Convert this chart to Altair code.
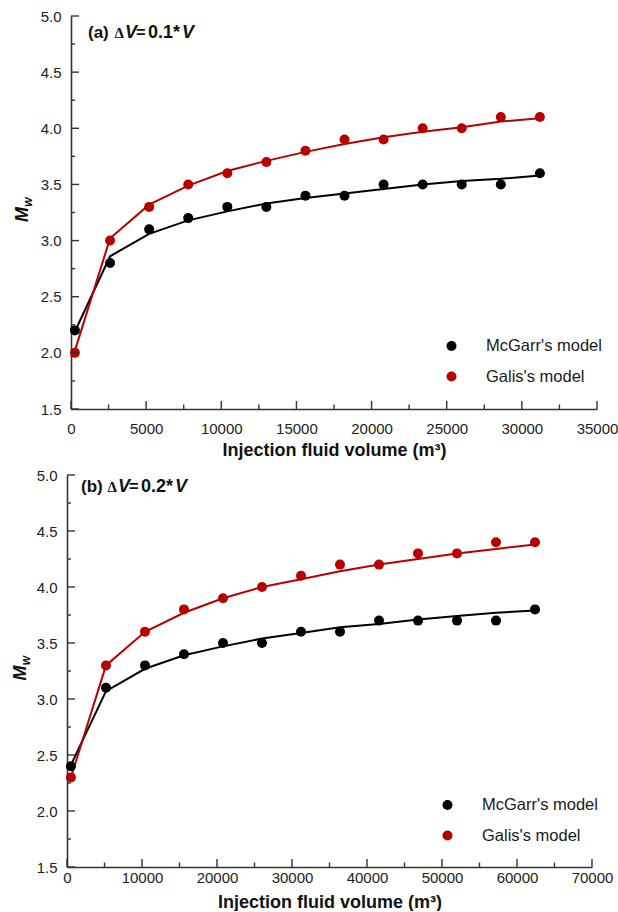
import altair as alt
import pandas as pd

FONT = "Liberation Sans"
SERIF = "Liberation Serif"
BLACK = "#000000"
RED = "#b80000"
AXIS_COLOR = "#333333"
SERIES = ["McGarr's model", "Galis's model"]

# ---------------- Panel (a): dV = 0.1*V ----------------
xa = [260, 2600, 5200, 7800, 10400, 13000, 15600, 18200, 20800, 23400, 26000, 28600, 31200]
mcgarr_a_pts = [2.2, 2.8, 3.1, 3.2, 3.3, 3.3, 3.4, 3.4, 3.5, 3.5, 3.5, 3.5, 3.6]
galis_a_pts = [2.0, 3.0, 3.3, 3.5, 3.6, 3.7, 3.8, 3.9, 3.9, 4.0, 4.0, 4.1, 4.1]
mcgarr_a_fit = [2.19, 2.86, 3.06, 3.18, 3.26, 3.33, 3.38, 3.42, 3.46, 3.50, 3.53, 3.55, 3.58]
galis_a_fit = [2.02, 3.02, 3.32, 3.49, 3.62, 3.71, 3.79, 3.86, 3.92, 3.97, 4.01, 4.06, 4.09]

# ---------------- Panel (b): dV = 0.2*V ----------------
xb = [520, 5200, 10400, 15600, 20800, 26000, 31200, 36400, 41600, 46800, 52000, 57200, 62400]
mcgarr_b_pts = [2.4, 3.1, 3.3, 3.4, 3.5, 3.5, 3.6, 3.6, 3.7, 3.7, 3.7, 3.7, 3.8]
galis_b_pts = [2.3, 3.3, 3.6, 3.8, 3.9, 4.0, 4.1, 4.2, 4.2, 4.3, 4.3, 4.4, 4.4]
mcgarr_b_fit = [2.41, 3.07, 3.27, 3.39, 3.47, 3.54, 3.59, 3.64, 3.67, 3.71, 3.74, 3.77, 3.79]
galis_b_fit = [2.30, 3.30, 3.60, 3.77, 3.90, 4.00, 4.07, 4.14, 4.20, 4.25, 4.30, 4.34, 4.38]

# ---------------- Tick values ----------------
y_major = [1.5, 2.0, 2.5, 3.0, 3.5, 4.0, 4.5, 5.0]
y_minor = [1.75, 2.25, 2.75, 3.25, 3.75, 4.25, 4.75]
xa_major = [0, 5000, 10000, 15000, 20000, 25000, 30000, 35000]
xa_minor = [2500, 7500, 12500, 17500, 22500, 27500, 32500]
xb_major = [0, 10000, 20000, 30000, 40000, 50000, 60000, 70000]
xb_minor = [5000, 15000, 25000, 35000, 45000, 55000, 65000]

ONE = pd.DataFrame({"a": [0]})


def long_df(x, a, b):
    n = len(x)
    return pd.DataFrame({"x": list(x) * 2, "y": list(a) + list(b),
                         "series": [SERIES[0]] * n + [SERIES[1]] * n})


def panel(x, m_pts, g_pts, m_fit, g_fit, xmax, xmajor, xminor, W, H,
          tag, ratio, title_dx, title_dy, lab_pad, tit_pad, mw_dx, sx=0.0):
    # sx: horizontal shift of the whole panel (pixels) relative to the view origin
    xs = alt.Scale(domain=[0, xmax], nice=False, zero=False, range=[sx, W + sx])
    ys = alt.Scale(domain=[1.5, 5.0], nice=False, zero=False)
    cs = alt.Scale(domain=SERIES, range=[BLACK, RED])

    xaxis = alt.Axis(values=xmajor, format="d", ticks=False, tickSize=0, grid=False,
                     domainColor=AXIS_COLOR, domainWidth=1.6, labelFont=FONT,
                     labelFontSize=15, labelColor="#222222", labelPadding=lab_pad,
                     labelFlush=False, title="Injection fluid volume (m³)",
                     titleFont=FONT, titleFontSize=18, titleFontWeight="bold",
                     titleColor="#111111", titlePadding=tit_pad,
                     titleX=sx + W / 2)
    yaxis = alt.Axis(values=y_major, format=".1f", ticks=False, tickSize=0, grid=False,
                     domainColor=AXIS_COLOR, domainWidth=1.6, labelFont=FONT,
                     labelFontSize=15, labelColor="#222222", labelPadding=10,
                     title="", offset=-sx)

    fit = long_df(x, m_fit, g_fit)
    pts = long_df(x, m_pts, g_pts)

    X = lambda f: alt.X(f, scale=xs, axis=xaxis)
    Y = lambda f: alt.Y(f, scale=ys, axis=yaxis)

    lines = alt.Chart(fit).mark_line(strokeWidth=2).encode(
        x=X("x:Q"), y=Y("y:Q"),
        color=alt.Color("series:N", scale=cs, legend=None),
    )
    dots = alt.Chart(pts).mark_circle(size=100, opacity=1).encode(
        x=X("x:Q"), y=Y("y:Q"),
        color=alt.Color("series:N", scale=cs, legend=None),
    )

    # inward ticks
    ymaj = alt.Chart(pd.DataFrame({"x": [0.0] * len(y_major), "y": y_major})).mark_rule(
        color=AXIS_COLOR, strokeWidth=1.4).encode(y=Y("y:Q"), x=alt.value(sx), x2=alt.value(sx + 8))
    ymin = alt.Chart(pd.DataFrame({"x": [0.0] * len(y_minor), "y": y_minor})).mark_rule(
        color=AXIS_COLOR, strokeWidth=1.4).encode(y=Y("y:Q"), x=alt.value(sx), x2=alt.value(sx + 4))
    xmaj = alt.Chart(pd.DataFrame({"x": xmajor})).mark_rule(
        color=AXIS_COLOR, strokeWidth=1.4).encode(x=X("x:Q"), y=alt.value(H), y2=alt.value(H - 8))
    xmin = alt.Chart(pd.DataFrame({"x": xminor})).mark_rule(
        color=AXIS_COLOR, strokeWidth=1.4).encode(x=X("x:Q"), y=alt.value(H), y2=alt.value(H - 4.5))

    def txt(s, dx, dy, size=18, style="normal", font=FONT, weight="bold", angle=0,
            align="left", baseline="alphabetic", color="#111111"):
        kw = dict(text=s, font=font, fontSize=size, fontWeight=weight, fontStyle=style,
                  align=align, baseline=baseline, color=color)
        if angle:
            kw["angle"] = angle
        return alt.Chart(ONE).mark_text(**kw).encode(x=alt.value(dx + sx), y=alt.value(dy))

    tx = title_dx
    ty = title_dy
    title_parts = [
        txt(tag, tx, ty, size=17),
        txt("Δ", tx + 26.5, ty, font=SERIF, size=15),
        txt("V", tx + 37, ty, style="italic"),
        txt("=", tx + 48, ty, size=16.5),
        txt(ratio, tx + 60, ty),
        txt("V", tx + 94, ty, style="italic"),
    ]

    mw = [
        txt("M", mw_dx, H / 2 + 2, size=18, style="italic", angle=270,
            align="center", baseline="middle"),
        txt("w", mw_dx + 4.5, H / 2 - 10.5, size=12, style="italic", angle=270,
            align="center", baseline="middle"),
    ]

    leg = []
    for i, (name, col) in enumerate(zip(SERIES, [BLACK, RED])):
        yy = 330 + 30.5 * i
        leg.append(alt.Chart(ONE).mark_circle(size=100, opacity=1, color=col).encode(
            x=alt.value(380.5 + sx), y=alt.value(yy)))
        leg.append(txt(name, 415, yy, size=16.5, weight="normal", baseline="middle",
                       color="#1a1a1a"))

    return alt.layer(lines, dots, ymaj, ymin, xmaj, xmin, *title_parts, *mw, *leg).properties(
        width=W, height=H)


top = panel(xa, mcgarr_a_pts, galis_a_pts, mcgarr_a_fit, galis_a_fit, 35000,
            xa_major, xa_minor, 526, 393, "(a)", "0.1*", 17, 21.5, 12, 5, -48)
bottom = panel(xb, mcgarr_b_pts, galis_b_pts, mcgarr_b_fit, galis_b_fit, 70000,
               xb_major, xb_minor, 525, 392, "(b)", "0.2*", 14, 16.5, 3, 8, -46, sx=-4)

chart = alt.vconcat(top, bottom, spacing=9).properties(
    padding={"left": 12, "top": 9, "right": 0, "bottom": 0},
    background="white",
).configure_view(stroke=None)

chart.save("out.html", embed_options={"renderer": "svg", "actions": False})
